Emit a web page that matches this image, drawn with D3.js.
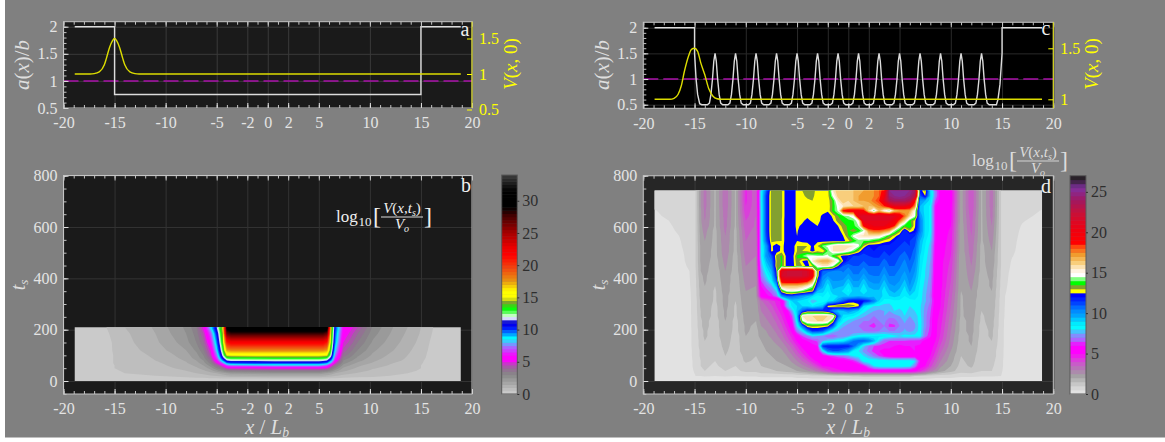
<!DOCTYPE html>
<html><head><meta charset="utf-8">
<style>html,body{margin:0;padding:0;background:#fff;overflow:hidden}svg{display:block}text{font-family:"Liberation Serif",serif}</style>
<script src="https://cdn.jsdelivr.net/npm/d3@7"></script></head><body><svg id="c" width="1165" height="442"></svg>
<script>
const xTicks=[-20,-15,-10,-5,-2,0,2,5,10,15,20];
const xMinor=d3.range(-20,21,1);
const aTicks=[0.5,1,1.5,2];
const aMinor=d3.range(0.5,2.1,0.1);
const vTicksA=[0.5,1,1.5];
const vTicksC=[1,1.5];
const tTicks=[0,200,400,600,800];
const tMinor=d3.range(-50,801,50);
const cbTicksB=[0,5,10,15,20,25,30];
const cbTicksD=[0,5,10,15,20,25];

const aPanelA=[[-18.9,2],[-15,2],[-15,0.75],[15,0.75],[15,2],[18.9,2]];
const vPanelA=[[-18.9,1],[-17.4,1],[-17,1.005],[-16.5,1.03],[-16,1.13],[-15.8,1.22],[-15.5,1.37],[-15.2,1.47],[-15,1.5],[-14.8,1.47],[-14.5,1.37],[-14.2,1.22],[-14,1.13],[-13.5,1.03],[-13,1.005],[-12.6,1],[18.9,1]];
const vPanelC=[[-18.9,1],[-17.4,1],[-17,1.01],[-16.6,1.05],[-16.3,1.13],[-16,1.27],[-15.6,1.42],[-15.3,1.49],[-15,1.5],[-14.7,1.47],[-14.4,1.36],[-14,1.24],[-13.6,1.1],[-13.2,1.03],[-12.8,1.005],[-12.4,1],[18.9,1]];
const aCLeft=[[-18.9,2],[-15,2],[-15,1.5],[-14.85,1],[-14.7,0.7],[-14.5,0.52],[-14.3,0.5]];
const aCRight=[[14.45,0.5],[14.6,0.6],[14.8,0.9],[15,1.5],[15,2],[18.9,2]];
const peakCentres=[-13,-11,-9,-7,-5,-3,-1,1,3,5,7,9,11,13];
const peakOffsets=[-0.75,-0.55,-0.4,-0.25,-0.12,0,0.12,0.25,0.4,0.55,0.75];
const peakHeights=[0.5,0.53,0.7,1,1.35,1.5,1.35,1,0.7,0.53,0.5];

const cmapBStops=[0,3,3.6,4.5,5.3,6,7.4,8.7,9.4,10.5,11.2,11.6,12,12.5,13.3,14.3,15,16,17.7,19.3,21.6,22.6,25.2,27.8,29,31.5,33.5];
const cmapBColors=["#d0d0d0","#888888","#8c7a8c","#b050b0","#ff00ff","#ff00ff","#a070ff","#00ffff","#0090ff","#0000ff","#0000d0","#c0c0ff","#ffffff","#80ff80","#00ff00","#80a030","#ffff00","#ffff00","#e89010","#f05010","#ff0000","#f00000","#a00000","#400000","#000000","#000000","#303030"];
const cmapDStops=[0,1,2.2,3,4,5.2,6.1,6.5,7.3,8.3,9,9.5,10.5,11.5,12.3,12.5,12.99,13,13.3,13.75,14.25,14.75,15.4,16.2,17.2,18.2,18.7,20.3,22.4,24,25.5,26.5,27];
const cmapDColors=["#e8e8e8","#d0d0d0","#a4a4a4","#b080b0","#d050d0","#ff00ff","#ff00ff","#c050ff","#8090ff","#00ffff","#00e0ff","#00b0ff","#0080ff","#0030ff","#0000ff","#ffff00","#ffff00","#90a030","#80a030","#00ff00","#80ff80","#ffffff","#fff0d8","#f8d080","#f0a030","#ff5010","#ff0000","#f00010","#c81038","#a01860","#8030a0","#302030","#222222"];

const xGridB=[-18.9,-15.8,-15,-14,-12.5,-11,-9.5,-8,-7,-6.3,-5.6,-5,-4.4,-4,-3.6,0.7,5,5.4,5.8,6.2,6.6,7.4,8.8,10.3,12,13.7,15,16.2,18.9];
const tGridB=[209,185,150,120,100,90,80,70,60,50,40,30,20,10,0];
const fieldB=[
[.2,.5,.7,1,1.2,1.6,2.1,2.6,3.4,5.2,8.5,11.5,15,30,31,31, 31,31,31,15,10.5,6,4.5,2.9,2.1,1.5,1,.5,.2],
[.2,.4,.7,.9,1.2,1.5,2,2.5,3.2,4.5,7,10.5,14.5,27,28,28, 28,28,27,14.5,10,5.6,4,2.7,2,1.4,.95,.45,.2],
[.2,.3,.6,.85,1.1,1.4,1.8,2.3,3,3.9,6,9.5,14,21,22,22, 22,22,21,14,9.5,5,3.5,2.4,1.8,1.25,.85,.35,.2],
[.2,.25,.6,.8,1,1.25,1.6,2,2.6,3.4,5,8.5,13,17.5,18,18, 18,18,17.5,13,8.5,4.3,3,2.1,1.6,1.1,.75,.3,.2],
[.2,.25,.55,.75,.9,1.1,1.4,1.8,2.3,3,4.5,7.5,12,15,15.2,15.3, 15.3,15.2,15,12,7.5,3.8,2.6,1.9,1.4,1,.7,.25,.2],
[.2,.25,.55,.7,.85,1.05,1.3,1.7,2.2,2.8,4,6.8,11,13,13.3,13.5, 13.5,13.3,13,11,6.8,3.4,2.4,1.75,1.3,.95,.65,.25,.2],
[.2,.25,.55,.7,.8,1,1.25,1.55,2,2.5,3.6,6,9.5,11.5,11.8,12, 12,11.8,11.5,9.5,6,3,2.2,1.6,1.2,.9,.6,.2,.2],
[.2,.25,.55,.65,.75,.9,1.15,1.45,1.8,2.3,3.2,5,7.5,9.5,10,10.3, 10.3,10,9.5,7.5,5,2.7,1.9,1.45,1.05,.8,.55,.2,.2],
[.2,.2,.5,.6,.7,.85,1.05,1.3,1.6,2,2.7,3.8,5.2,7,7.5,7.8, 7.8,7.5,7,5.2,3.8,2.3,1.6,1.25,.95,.75,.5,.2,.2],
[.2,.2,.5,.55,.65,.8,.95,1.15,1.4,1.7,2.2,3,3.8,4.8,5,5.2, 5.2,5,4.8,3.8,3,1.9,1.4,1.05,.8,.65,.5,.2,.2],
[.2,.2,.45,.55,.6,.7,.85,1,1.2,1.4,1.8,2.3,2.8,3.2,3.4,3.6, 3.6,3.4,3.2,2.8,2.3,1.6,1.2,.9,.7,.6,.45,.2,.2],
[.15,.15,.4,.5,.55,.6,.7,.85,1,1.1,1.3,1.5,1.8,2,2.1,2.3, 2.3,2.1,2,1.8,1.5,1.2,.95,.75,.6,.5,.4,.15,.15],
[.1,.1,.25,.4,.45,.5,.55,.65,.75,.85,.95,1.05,1.15,1.3,1.4,1.5, 1.5,1.4,1.3,1.15,1.05,.85,.7,.6,.5,.45,.25,.1,.1],
[.1,.1,.2,.3,.3,.3,.35,.35,.4,.4,.45,.45,.5,.5,.5,.5, .5,.5,.5,.45,.45,.4,.35,.35,.3,.3,.2,.1,.1],
[.05,.05,.05,.05,.05,.05,.05,.05,.05,.05,.05,.05,.05,.05,.05,.05, .05,.05,.05,.05,.05,.05,.05,.05,.05,.05,.05,.05,.05]
];

const xGridD=[-18.9,-17.5,-16.5,-15.5,-14.9,-14.4,-14,-13,-12,-11,-10,-9,-8.5,-8,-7.5,-7,-6.5,-6,-5.5,-5,-4.5,-4,-3.5,-3,-2.5,-2,-1.5,-1,-0.5,0,0.5,1,1.5,2,2.5,3,3.5,4,4.5,5,5.5,6,6.5,7,7.5,8,8.5,9,10,11,12,13,14,14.9,15.3,16,17,18,18.9];
const tGridD=[742,721,702,682,663,643,624,604,585,565,546,526,507,487,468,448,429,409,390,370,351,331,312,292,273,253,234,214,195,175,156,136,117,97,78,58,39,19.5,0];
const fieldDLeft=[
[.6,.7,.8,.9,1,2.5,3.2,1.9,3.4,1.9,4.6,3.6],
[.6,.7,.8,.9,1,2.5,3.2,1.9,3.4,1.9,4.6,3.6],
[.6,.7,.8,.9,1,2.5,3.2,1.9,3.4,1.9,4.6,3.6],
[.55,.65,.75,.85,1,2.5,3.2,1.9,3.4,1.9,4.5,3.6],
[.48,.6,.7,.8,1,2.4,3.1,1.9,3.3,1.9,4.4,3.5],
[.45,.55,.65,.78,1,2.4,3.1,1.9,3.3,1.9,4.2,3.5],
[.42,.5,.62,.75,1,2.4,3,1.9,3.2,1.9,4,3.4],
[.4,.46,.58,.72,1,2.3,2.9,1.9,3.2,1.9,3.9,3.4],
[.4,.44,.54,.7,1,2.3,2.7,1.8,3.1,1.8,3.7,3.3],
[.4,.42,.5,.68,1,2.2,2.6,1.8,3,1.8,3.6,3.2],
[.4,.4,.47,.66,1,2.2,2.5,1.8,3,1.8,3.5,3.1],
[.4,.4,.45,.64,1,2.1,2.4,1.8,2.9,1.8,3.4,3.1],
[.4,.4,.42,.62,1,2.1,2.3,1.8,2.9,1.8,3.3,3],
[.4,.4,.4,.6,1,2.1,2.3,1.8,2.8,1.7,3.2,3],
[.4,.4,.4,.58,1,2.1,2.3,1.7,2.7,1.7,3.1,2.9],
[.4,.4,.4,.54,1,2,2.2,1.7,2.6,1.7,3,2.8],
[.4,.4,.4,.5,.95,2,2.2,1.6,2.5,1.7,2.9,2.7],
[.4,.4,.4,.48,.95,1.9,2.1,1.6,2.4,1.6,2.8,2.6],
[.4,.4,.4,.46,.9,1.8,2.1,1.5,2.4,1.6,2.7,2.5],
[.4,.4,.4,.44,.9,1.8,2,1.5,2.3,1.6,2.6,2.5],
[.4,.4,.4,.42,.85,1.7,2,1.4,2.3,1.6,2.5,2.4],
[.4,.4,.4,.4,.85,1.7,2,1.4,2.2,1.5,2.5,2.3],
[.4,.4,.4,.4,.8,1.6,1.9,1.4,2.2,1.5,2.4,2.2],
[.4,.4,.4,.4,.8,1.6,1.9,1.3,2.2,1.4,2.4,2.1],
[.4,.4,.4,.4,.8,1.5,1.8,1.3,2.1,1.4,2.3,2.1],
[.4,.4,.4,.4,.75,1.5,1.8,1.3,2.1,1.4,2.2,2],
[.4,.4,.4,.4,.75,1.4,1.7,1.2,2,1.3,2.2,2],
[.4,.4,.4,.4,.75,1.4,1.7,1.2,2,1.3,2.1,1.9],
[.4,.4,.4,.4,.7,1.3,1.6,1.2,1.9,1.3,2.1,1.8],
[.4,.4,.4,.4,.7,1.3,1.6,1.2,1.9,1.2,2,1.8],
[.4,.4,.4,.4,.7,1.2,1.5,1.1,1.8,1.2,2,1.7],
[.4,.4,.4,.4,.7,1.2,1.4,1.1,1.7,1.2,1.9,1.6],
[.4,.4,.4,.4,.65,1.1,1.3,1,1.6,1.2,1.9,1.6],
[.4,.4,.4,.4,.65,1.1,1.3,1,1.5,1.1,1.7,1.5],
[.4,.4,.4,.4,.6,1,1.2,1,1.4,1.1,1.6,1.4],
[.4,.4,.4,.4,.6,1,1.1,.9,1.2,1,1.3,1.2],
[.4,.4,.4,.4,.55,.9,1,.8,1,.9,1.1,1.1],
[.4,.4,.4,.35,.5,.5,.55,.5,.55,.5,.55,.55],
[.1,.1,.1,.1,.1,.1,.1,.1,.1,.1,.1,.1]
];
const fieldDCore=[
[8.2,11,13.2,13.1,13.1,12,12,12.7,13,13.1,13.2,12.8,12.7,12.7,15.5,16.5,16.3,16,16.5,16.8,17,17,17.5,18,19,25,25.3,25.5,25.5,25,24,12,13.3,9,7],
[8.2,11.5,13.2,13.1,13.1,12,12,12.7,12.9,13.1,13.1,12.8,12.7,12.7,14.7,16.3,16.5,16,16.5,17,17,17,17.5,18,20,24.5,25,25.3,25,24.5,23,11,12.5,9,7],
[8.2,11.5,13.2,13.1,13.1,12,12,12.7,12.7,12.9,13,12.7,12.7,12.7,13.6,15.5,16.5,16,16.5,17,17,17.2,17.8,18.5,21,23.5,24,24,24,23.5,19,10,9.5,8.8,6.5],
[8.1,11.5,13.2,13.1,13.1,12,12,12.7,12.7,12.7,12.7,12.7,12.7,12.6,13.6,14.8,15.5,15.8,16,16,16.5,16.5,17,17.5,18.5,20,21,21,21,20,17.5,9.5,8.8,8.4,6],
[8,11.5,13.2,13.1,13.1,12,12,12.7,12.7,12.7,12.7,12.7,12.7,12.6,13.7,14.6,19,19.5,19.5,19.5,19,16,14,16.5,15,14,16.5,17,17,17,15,9.5,8.8,8.4,6],
[8,11.5,13.2,13.1,13.1,12,12,12.7,12.7,12.7,12.7,12.7,12.4,12,12.7,13.5,14,14.5,15,21,21.5,21.5,21.5,21.5,21.5,21.5,21,20,18,16,14.7,10,8.8,8.4,6],
[8,11.5,13.2,13.1,13,12,12,12.7,12.7,12.2,12.7,12.7,12.3,12,12.4,13.3,13.6,13.8,14,15,21,21,21,21,21,21,20,18,16,13.7,12.7,10.5,8.8,8.4,6],
[8,11.5,13.2,13.1,13,12,12,12.7,12.3,12,12,12.5,12.2,12,12,12.5,13.3,13.6,13.8,14.5,19,20,20.5,20.5,20.5,19.5,18.5,15,13.6,14,12.6,10.5,8.8,8.4,6],
[8,11.5,13.2,13.1,13,12,12,12.6,12,12,12,12.4,12,12,12,12.1,13,13.6,13.2,13.6,14.5,17.5,18,18,17.5,17,14.5,13.4,11.5,13,12.3,10.5,8.8,8.4,6],
[8,11.3,13.2,13.1,13,12,12,12.5,12,12,12,12.3,12,12,12,12,12.5,13.5,14.7,15.5,15.7,15.7,15.6,15.5,14.5,13.5,12.8,12,11.5,11.5,11.5,10,8.8,8.2,6],
[8,11,13.1,13.1,13,12,12,12.5,12.3,12.2,12.2,12.3,12.2,12.2,12.2,12.2,12.3,12.8,13.6,14.2,14,14,13.7,13.3,12.8,12.6,12,11.5,11.5,11.5,11.3,9.5,8.6,8,6],
[8,10,12.7,12,12.7,12.2,12,13,13,13,12.3,13,14.2,14.7,15.5,16,16,15.8,15.5,14.7,13,12,12,12,11.8,11.8,11.5,11.5,11.2,11.5,11,9.3,8.5,7.8,5.8],
[8,9.8,12.7,12.1,12.7,12.2,12,13,13,12.9,12.2,12.9,12.5,14,15.5,15.8,15.5,15,14.2,13,11.8,11.8,12,11.8,11.5,11.8,11.5,11.2,11,11.3,10.8,9.2,8.4,7.7,5.8],
[8,10,11,13.2,13.6,12.2,12,13.6,14,14.7,14.7,14.5,14.5,14.7,13.6,12.8,12.2,12,11.5,11.5,11.2,11.5,11.6,11.6,11.2,11.5,11.4,11,10.7,11.2,10.6,9,8.3,7.6,5.7],
[7.8,9.5,10.5,13,13.6,12.2,12,13.4,12.5,12.2,15.5,16.5,17,17,16,15,12.5,11.5,11.4,11.4,11,11.3,11.3,11.3,10.8,11.2,11.2,10.8,10.4,11,10.4,8.9,8.2,7.5,5.7],
[7.5,9,10,13.2,13.6,12.2,12,13.2,13,12.2,13,15,15.5,15.5,14.5,12.5,11,10.6,11,11,10.6,11,11,11,10.5,11,11,10.6,10.2,10.8,10.2,8.8,8.1,7.4,5.6],
[7.2,8.5,9.5,12.5,21,22,22,22,22,21.5,20,13,11,10.7,10.5,10.3,10.6,10.2,10.7,10.7,10.2,10.7,10.8,10.8,10.2,10.8,10.7,10.4,10,10.6,10,8.7,8,7.4,5.6],
[7,8,9,12,21.5,22,22,22,22,21.5,20,13,10.5,10,10.4,10.4,10.3,9.8,10.4,10.4,9.8,10.4,10.5,10.5,9.8,10.5,10.5,10.2,9.7,10.4,9.8,8.6,8,7.3,5.5],
[6.5,7.5,8.5,11,19.5,20,20,20,19.5,19,17,12,10,9.2,10,10,9.9,9.2,10,10,9.2,10,10.2,10.2,9.4,10.2,10.3,10,9.4,10.2,9.5,8.5,7.9,7.2,5.5],
[6,6.8,7.5,9.5,16.5,16.5,16.5,16.5,16.2,15.5,14.5,11,9.7,8.7,9.7,9.6,9.5,8.6,9.6,9.6,8.8,9.6,9.8,9.8,9,9.8,10,9.7,9,10,9.2,8.4,7.8,7.1,5.4],
[5.6,6.2,6.8,7.8,13.3,14.7,15,14.7,14.2,13.5,13,9.5,9.2,8.5,9.4,9.2,8.9,8.4,9.2,9.2,8.5,9.2,9.4,9.4,8.7,9.4,9.7,9.3,8.7,9.6,9,8.3,7.7,7,5.4],
[5.4,5.8,6.2,7,10,11,11,10.5,10,9.5,9,8.3,8.6,8.2,8.8,9,9.3,9,9.3,9.5,9.2,9,9.3,9.4,8.8,9,9.2,9,8.5,9,8.8,8.3,7.6,6.9,5.3],
[3.4,3.8,4.3,4.6,5.2,7.5,9,9,8.8,8.6,7.5,8,8.2,8.6,9,10,11,12,12.2,12.2,12,11.5,10.5,9,8.3,8.2,8.4,8.4,8.4,8.2,8.4,8.2,7.6,7,5.6],
[3.2,3.5,3.9,4.5,5.1,7.5,8.6,9,9,9,8.5,9,9.2,12.8,13.2,13.5,13.5,13.5,13.2,12.7,9,8.3,8,8,7.8,7.8,8.2,8.2,8.3,8,8.2,8.1,7.4,6.8,5.5],
[3,3.3,3.6,4.2,4.8,5.6,7.5,9.2,11,12,12,12,12,11.5,10,9.2,9.5,10,9.5,9,8.2,7.8,7.5,7.3,7.5,7.5,8,7.8,8.2,7.8,8,8.1,7.3,6.6,5.4],
[2.8,3.1,3.4,3.9,4.5,5.3,6.5,9,15.5,16,16,16.2,16.2,16,15.8,11,8.8,8.6,8.5,8,7.6,7.3,7,7.2,7.5,7.2,7.2,7.5,8,7.5,7.8,8.2,7.2,6.5,5.3],
[2.7,2.9,3.2,3.6,4.2,5,6,8.5,14.3,15.5,15.8,16,16,15.5,13.2,9.5,8.3,7.8,7.5,7.2,7,7,6.6,7,7.2,6.6,6.8,7.2,7.6,7.2,7.6,8.3,7.2,6.4,5.2],
[2.5,2.7,3,3.4,3.9,4.7,5.5,8,10.5,13,13.2,13.1,13,12.7,11,8.3,7.6,7.3,7.2,7,6.8,6.5,6.3,6.8,7,6.4,6.4,7,7.4,7,7.4,8.3,7.2,6.4,5.2],
[2.3,2.5,2.8,3.1,3.6,4.3,5.2,7,8,10,11.5,11.5,11,9.5,8,7.5,7,7,7,7,7,6.8,6.8,7,7.2,7,7,7.2,7.6,7.3,7.6,8.3,7,6.3,5.2],
[2.2,2.4,2.6,2.9,3.3,4,4.7,5.5,6.5,7,7.8,7.5,7.2,6.6,6.5,7,7.2,7.5,8,8.3,8.5,8.5,8.5,8.6,8.6,8.5,8.2,8,8.2,8.2,8.2,8.3,6.8,6.1,5.2],
[2,2.2,2.4,2.7,3,3.6,4.3,5.1,5.6,6,6.3,6.6,7.5,8,8.2,8.4,8.6,9.5,10.5,11,11,10.5,9.5,7.8,6.8,6.5,6.5,6.5,6.5,6.3,6.3,6.2,5.8,5.5,5],
[1.9,2.1,2.2,2.4,2.7,3.1,3.7,4.5,5.2,5.6,5.8,6,11.5,12,12,12,12,11.8,11,9.5,7.8,7,6.5,6.3,6.2,6.2,6,5.8,6,6,6,5.9,5.6,5.3,4.8],
[1.8,2,2.1,2.2,2.4,2.8,3.3,4,4.7,5.2,5.5,5.6,8,10.5,11,11,10.5,10,8.5,8,7.3,6.8,6.3,6,5.8,5.8,5.7,5.5,5.5,5.7,6,5.7,5.4,5.2,4.5],
[1.7,1.9,2,2.1,2.2,2.5,2.9,3.5,4.1,4.8,5.3,5.3,5.6,6,6.5,6.8,7,7.5,8,8.2,8,7.5,7,6.5,6,5.6,5.5,5.4,5.4,5.5,5.7,5.6,5.3,5,4.2],
[1.6,1.8,1.9,2,2.1,2.2,2.6,3,3.5,4,4.7,5.2,5.3,5.3,5.4,5.5,5.6,5.8,6.2,7,8.4,8.5,8.5,8.5,8.5,8.5,8.5,8.5,8.5,8.5,8,6,5.3,4.6,3.8],
[1.5,1.6,1.7,1.8,1.9,2,2.2,2.5,2.8,3.2,3.7,4.3,5,5.1,5.2,5.2,5.3,5.3,5.3,5.4,6,7,8,8.3,8.4,8.4,8.4,8.4,8.4,8.2,7,5.4,5,4.2,3.4],
[1.3,1.3,1.4,1.5,1.6,1.7,1.8,2,2.2,2.4,2.7,3.1,3.6,4.1,4.6,4.9,5,5.2,5.2,5.2,5.3,5.3,5.4,5.5,5.5,5.5,5.5,5.5,5.4,5.4,5.2,4.6,4,3.2,2.7],
[.6,.6,.6,.6,.6,.6,.6,.7,.7,.7,.8,.8,.8,.9,.9,1,1,1,1.1,1.1,1.2,1.2,1.2,1.2,1.2,1.2,1.2,1.2,1.2,1.2,1,1,.9,.8,.7],
[.2,.2,.2,.2,.2,.2,.2,.2,.2,.2,.2,.2,.2,.2,.2,.2,.2,.2,.2,.2,.2,.2,.2,.2,.2,.2,.2,.2,.2,.2,.2,.2,.2,.2,.2]
];
const fieldDRight=[
[5.6,5.4,2.2,4,1.9,3.3,1,.8,.7,.65,.6,.6],
[5.6,5.4,2.2,4,1.9,3.3,1,.8,.7,.65,.6,.6],
[5.6,5.4,2.2,4,1.9,3.3,1,.8,.7,.65,.6,.6],
[5.6,5.3,2.2,4,1.9,3.3,1,.8,.7,.62,.58,.55],
[5.5,5.2,2.2,3.9,1.9,3.2,1,.8,.7,.6,.56,.48],
[5.5,5.2,2.2,3.8,1.9,3.2,1,.8,.68,.56,.5,.45],
[5.5,5.1,2.2,3.7,1.9,3.1,1,.8,.66,.52,.45,.42],
[5.4,5,2.1,3.7,1.9,3,1,.78,.64,.47,.42,.4],
[5.4,4.9,2.1,3.6,1.9,2.9,1,.76,.62,.44,.4,.4],
[5.4,4.8,2.1,3.5,1.9,2.8,1,.74,.6,.42,.4,.4],
[5.3,4.8,2.1,3.4,1.9,2.7,1,.72,.58,.4,.4,.4],
[5.3,4.7,2.1,3.3,1.8,2.6,1,.7,.56,.4,.4,.4],
[5.3,4.6,2.1,3.3,1.8,2.5,1,.68,.54,.4,.4,.4],
[5.3,4.5,2,3.2,1.8,2.4,1,.66,.51,.4,.4,.4],
[5.2,4.4,2,3.1,1.8,2.4,1,.64,.47,.4,.4,.4],
[5.2,4.3,2,3,1.8,2.3,1,.62,.45,.4,.4,.4],
[5.2,4.2,2,2.9,1.8,2.2,.95,.6,.42,.4,.4,.4],
[5.2,4.1,2,2.8,1.7,2.2,.95,.58,.4,.4,.4,.4],
[5.2,4,2,2.7,1.7,2.1,.9,.56,.4,.4,.4,.4],
[5.2,3.9,2,2.6,1.7,2.1,.9,.54,.4,.4,.4,.4],
[5.1,3.8,2,2.5,1.6,2,.85,.52,.4,.4,.4,.4],
[5.1,3.7,1.9,2.5,1.6,2,.85,.5,.4,.4,.4,.4],
[5,3.6,1.9,2.4,1.5,1.9,.8,.49,.4,.4,.4,.4],
[5,3.5,1.9,2.4,1.5,1.9,.8,.47,.4,.4,.4,.4],
[4.9,3.4,1.9,2.3,1.5,1.8,.8,.45,.4,.4,.4,.4],
[4.8,3.3,1.9,2.3,1.4,1.8,.75,.45,.4,.4,.4,.4],
[4.7,3.2,1.8,2.2,1.4,1.7,.75,.4,.4,.4,.4,.4],
[4.6,3.1,1.8,2.2,1.3,1.7,.75,.4,.4,.4,.4,.4],
[4.5,3,1.8,2.2,1.3,1.6,.7,.4,.4,.4,.4,.4],
[4.4,2.9,1.7,2.1,1.3,1.6,.7,.4,.4,.4,.4,.4],
[4.2,2.8,1.7,2.1,1.2,1.5,.7,.4,.4,.4,.4,.4],
[3.9,2.7,1.6,2,1.2,1.4,.7,.4,.4,.4,.4,.4],
[3.6,2.5,1.6,2,1.1,1.3,.65,.4,.4,.4,.4,.4],
[3.3,2.3,1.5,1.8,1.1,1.3,.65,.4,.4,.4,.4,.4],
[3,2.2,1.4,1.7,1.1,1.2,.6,.4,.4,.4,.4,.4],
[2.6,2,1.3,1.6,1,1.1,.6,.4,.4,.4,.4,.4],
[2.2,1.7,1.2,1.3,1,1,.55,.4,.4,.4,.4,.4],
[.7,.7,.6,.6,.55,.55,.5,.3,.3,.3,.3,.3],
[.2,.2,.1,.1,.1,.1,.1,.1,.1,.1,.1,.1]
];

const svg=d3.select("#c");
svg.append("rect").attr("x",5).attr("y",0).attr("width",1160).attr("height",437.5).attr("fill","#808080");

const grey="#e4e4e4",frame="#c4c4c4";
function axisStyle(sel,color,size){
  sel.selectAll(".domain").remove();
  sel.selectAll("line").attr("stroke",color).attr("stroke-width",1);
  sel.selectAll("text").attr("fill",color).style("font-size",size+"px").style("font-family",'"Liberation Serif",serif');
}
function panel(box,bg,grid,leftScale,leftTicks,leftMinor,fmtLeft){
  const g=svg.append("g");
  const x=d3.scaleLinear().domain([-20,20]).range([box.l,box.r]);
  g.append("rect").attr("x",box.l).attr("y",box.t).attr("width",box.r-box.l).attr("height",box.b-box.t).attr("fill",bg);
  g.append("g").attr("transform",`translate(0,${box.b})`).call(d3.axisBottom(x).tickValues(xTicks).tickSize(-(box.b-box.t)).tickFormat("")).call(s=>axisStyle(s,grid,10));
  g.append("g").attr("transform",`translate(${box.l},0)`).call(d3.axisLeft(leftScale).tickValues(leftTicks).tickSize(-(box.r-box.l)).tickFormat("")).call(s=>axisStyle(s,grid,10));
  const layer=g.append("g");
  const over=svg.append("g");
  over.append("g").attr("transform",`translate(0,${box.b})`).call(d3.axisBottom(x).tickValues(xMinor).tickSize(-3).tickFormat("")).call(s=>axisStyle(s,frame,10));
  over.append("g").attr("transform",`translate(0,${box.t})`).call(d3.axisTop(x).tickValues(xMinor).tickSize(-3).tickFormat("")).call(s=>axisStyle(s,frame,10));
  over.append("g").attr("transform",`translate(0,${box.b})`).call(d3.axisBottom(x).tickValues(xTicks).tickSize(-5).tickPadding(9).tickFormat(d3.format("d"))).call(s=>{axisStyle(s,grey,16);s.selectAll("text").text(d=>String(d));});
  over.append("g").attr("transform",`translate(0,${box.t})`).call(d3.axisTop(x).tickValues(xTicks).tickSize(-5).tickFormat("")).call(s=>axisStyle(s,frame,10));
  over.append("g").attr("transform",`translate(${box.l},0)`).call(d3.axisLeft(leftScale).tickValues(leftMinor).tickSize(-3).tickFormat("")).call(s=>axisStyle(s,frame,10));
  over.append("g").attr("transform",`translate(${box.l},0)`).call(d3.axisLeft(leftScale).tickValues(leftTicks).tickSize(-5).tickPadding(6).tickFormat(fmtLeft)).call(s=>axisStyle(s,grey,16));
  over.append("rect").attr("x",box.l).attr("y",box.t).attr("width",box.r-box.l).attr("height",box.b-box.t).attr("fill","none").attr("stroke",frame).attr("stroke-width",1);
  return {x,layer,over};
}
function mathLabel(x,y,rot,parts,color,size){
  const t=svg.append("text").attr("transform",`translate(${x},${y}) rotate(${rot})`).attr("text-anchor","middle").attr("fill",color).style("font-size",size+"px");
  parts.forEach(p=>{const s=t.append("tspan").text(p[0]);if(p[1])s.style("font-style","italic");if(p[2]){s.style("font-size",(size*.65)+"px").attr("dy",p[2]);}});
  return t;
}
function linePanel(box,bg,grid,aScale,vScale,vTicks,whiteData,yellowData,name,labelX,labelY){
  const p=panel(box,bg,grid,aScale,aTicks,aMinor,d=>String(d));
  const lineA=d3.line().x(d=>p.x(d[0])).y(d=>aScale(d[1]));
  const lineV=d3.line().x(d=>p.x(d[0])).y(d=>vScale(d[1])).curve(d3.curveMonotoneX);
  p.layer.append("line").attr("x1",box.l).attr("x2",box.r).attr("y1",aScale(1)).attr("y2",aScale(1)).attr("stroke","#a810a8").attr("stroke-width",1.5).attr("stroke-dasharray","15 5");
  p.layer.append("path").attr("d",lineA(whiteData)).attr("fill","none").attr("stroke","#dcdcdc").attr("stroke-width",1.4);
  p.layer.append("path").attr("d",lineV(yellowData)).attr("fill","none").attr("stroke","#dcdc00").attr("stroke-width",1.4);
  p.over.append("line").attr("x1",box.r).attr("x2",box.r).attr("y1",box.t).attr("y2",box.b).attr("stroke","#d8d800").attr("stroke-width",1);
  p.over.append("g").attr("transform",`translate(${box.r},0)`).call(d3.axisRight(vScale).tickValues(vTicks).tickSize(-5).tickPadding(7).tickFormat(d=>String(d))).call(s=>axisStyle(s,"#ffff00",16));
  svg.append("text").attr("x",labelX).attr("y",labelY).attr("text-anchor","middle").attr("fill","#f0f0f0").style("font-size","20px").text(name);
}
const boxA={l:63.5,r:472,t:21.7,b:108};
const boxC={l:643.3,r:1053.3,t:22.3,b:108.3};
const aScaleA=d3.scaleLinear().domain([0.5,2]).range([108,26.7]);
const vScaleA=d3.scaleLinear().domain([1,1.5]).range([74,38.5]);
const aScaleC=d3.scaleLinear().domain([0.5,2]).range([104.7,27.7]);
const vScaleC=d3.scaleLinear().domain([1,1.5]).range([99.3,48.3]);
linePanel(boxA,"#1a1a1a","#3a3a3a",aScaleA,vScaleA,vTicksA,aPanelA,vPanelA,"a",465,36);
const aPanelC=aCLeft.concat(peakCentres.flatMap(c=>peakOffsets.map((o,i)=>[c+o,peakHeights[i]])),aCRight);
linePanel(boxC,"#000000","#2a2a2a",aScaleC,vScaleC,vTicksC,aPanelC,vPanelC,"c",1046,35);

function field(p,tScale,xs,ts,rows,step,top,cmap){
  const nx=xs.length,ny=ts.length;
  const values=rows.flat();
  const ix=d3.scaleLinear().domain([0,...xs.map((_,i)=>i+.5),nx]).range([xs[0],...xs,xs[nx-1]]);
  const iy=d3.scaleLinear().domain([0,...ts.map((_,i)=>i+.5),ny]).range([ts[0],...ts,ts[ny-1]]);
  const path=d3.geoPath(d3.geoTransform({point(a,b){this.stream.point(p.x(ix(a)),tScale(iy(b)));}}));
  const thresholds=d3.range(0,top,step);
  const cs=d3.contours().size([nx,ny]).thresholds(thresholds)(values);
  p.layer.selectAll("path.band").data(cs).join("path").attr("class","band").attr("d",path).attr("fill",d=>cmap(d.value+step/2));
}
function colorbar(l,r,t,b,max,step,cmap,ticks){
  const y=d3.scaleLinear().domain([0,max]).range([b,t]);
  const g=svg.append("g");
  g.selectAll("rect").data(d3.range(0,max,step)).join("rect").attr("x",l).attr("width",r-l).attr("y",d=>y(Math.min(d+step,max))).attr("height",d=>y(d)-y(Math.min(d+step,max))+.4).attr("fill",d=>cmap(d+step/2));
  g.append("rect").attr("x",l).attr("y",t).attr("width",r-l).attr("height",b-t).attr("fill","none").attr("stroke","#5a5a5a");
  const ax=svg.append("g").attr("transform",`translate(${r},0)`).call(d3.axisRight(y).tickValues(ticks).tickSize(2).tickPadding(3).tickFormat(d=>String(d)));
  axisStyle(ax,"#2e2e2e",16);
}
function logLabel(dx,dy,color){
  const g=svg.append("g").attr("transform",`translate(${dx},${dy})`).attr("fill",color);
  g.append("text").attr("x",336).attr("y",222).style("font-size","17px").text("log");
  g.append("text").attr("x",358.5).attr("y",226).style("font-size","13px").text("10");
  g.append("text").attr("x",373).attr("y",224).style("font-size","24px").style("font-weight","200").text("[");
  g.append("text").attr("x",424).attr("y",224).style("font-size","24px").style("font-weight","200").text("]");
  const n=g.append("text").attr("x",402).attr("y",213).attr("text-anchor","middle").style("font-size","15px");
  n.append("tspan").style("font-style","italic").text("V");n.append("tspan").text("(");n.append("tspan").style("font-style","italic").text("x,t");n.append("tspan").attr("dy",3).style("font-size","10px").style("font-style","italic").text("s");n.append("tspan").attr("dy",-3).text(")");
  g.append("line").attr("x1",381).attr("x2",423).attr("y1",217).attr("y2",217).attr("stroke",color).attr("stroke-width",.9);
  const m=g.append("text").attr("x",402).attr("y",229).attr("text-anchor","middle").style("font-size","15px");
  m.append("tspan").style("font-style","italic").text("V");m.append("tspan").attr("dy",3).style("font-size","10px").style("font-style","italic").text("o");
}
const boxB={l:63.5,r:472,t:175.5,b:394};
const boxD={l:643.3,r:1053.3,t:175.7,b:394};
const tScale=d3.scaleLinear().domain([0,800]).range([381,175.7]);
const cmapB=d3.scaleLinear().domain(cmapBStops).range(cmapBColors);
const cmapD=d3.scaleLinear().domain(cmapDStops).range(cmapDColors);
const pB=panel(boxB,"#1a1a1a","#333333",tScale,tTicks,tMinor,d=>String(d));
field(pB,tScale,xGridB,tGridB,fieldB,0.5,34,cmapB);
const pD=panel(boxD,"#262626","#3a3a3a",tScale,tTicks,tMinor,d=>String(d));
const fieldD=fieldDCore.map((r,i)=>fieldDLeft[i].concat(r,fieldDRight[i]));
field(pD,tScale,xGridD,tGridD,fieldD,0.5,27,cmapD);
colorbar(501.7,517.3,175,394,34,0.5,cmapB,cbTicksB);
colorbar(1070,1086,175.7,394,27,0.5,cmapD,cbTicksD);
logLabel(0,0,"#f0f0f0");
logLabel(636,-56,"#dcdcdc");
svg.append("text").attr("x",466).attr("y",192).attr("text-anchor","middle").attr("fill","#f0f0f0").style("font-size","20px").text("b");
svg.append("text").attr("x",1046).attr("y",193).attr("text-anchor","middle").attr("fill","#f0f0f0").style("font-size","20px").text("d");

const lc="#dedede";
mathLabel(29,65,-90,[["a",1],["("],["x",1],[")/"],["b",1]],lc,21);
mathLabel(609,65,-90,[["a",1],["("],["x",1],[")/"],["b",1]],lc,21);
mathLabel(517,64,-90,[["V",1],["("],["x",1],[", 0)"]],"#ffff00",19);
mathLabel(1098,64,-90,[["V",1],["("],["x",1],[", 0)"]],"#ffff00",19);
mathLabel(25,285,-90,[["t",1],["s",1,3]],lc,20);
mathLabel(605,285,-90,[["t",1],["s",1,3]],lc,20);
mathLabel(267,434,0,[["x",1],[" / "],["L",1],["b",1,3]],lc,21);
mathLabel(848,434,0,[["x",1],[" / "],["L",1],["b",1,3]],lc,21);
</script></body></html>
